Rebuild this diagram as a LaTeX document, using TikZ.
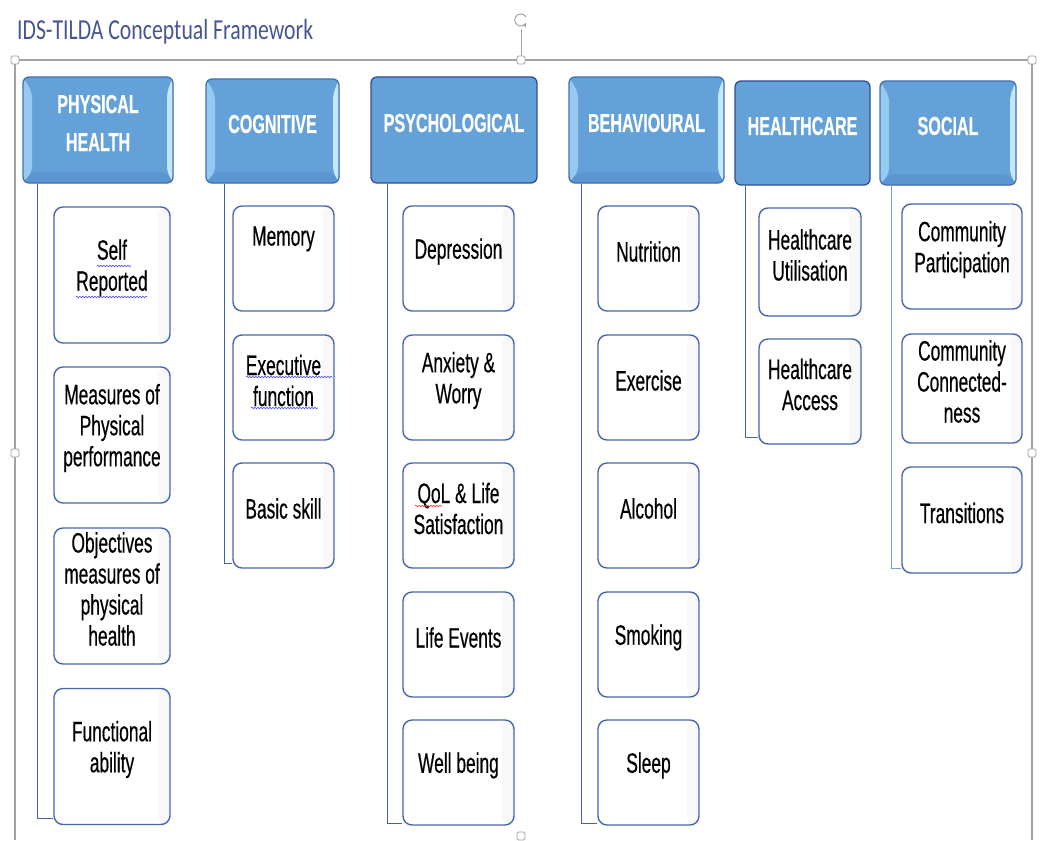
\documentclass[tikz,border=0pt]{standalone}
\usepackage{fontspec}
\setmainfont{Liberation Sans}
\newfontfamily\narrowfont[FakeStretch=0.62,FakeBold=0.4]{Liberation Sans}
\newfontfamily\titlefont[FakeStretch=0.75]{Carlito}
\usetikzlibrary{decorations.pathmorphing}
\definecolor{headblue}{RGB}{100,161,216}
\definecolor{headedge}{RGB}{66,112,176}
\definecolor{flatedge}{RGB}{48,78,150}
\definecolor{bevlight}{RGB}{150,202,240}
\definecolor{bevwhite}{RGB}{196,232,250}
\definecolor{bevdark}{RGB}{92,150,208}
\definecolor{boxedge}{RGB}{74,102,170}
\definecolor{linkblue}{RGB}{72,96,166}
\definecolor{linklight}{RGB}{110,160,215}
\definecolor{titleblue}{RGB}{70,86,142}
\definecolor{framegray}{RGB}{162,162,162}

\begin{document}
\begin{tikzpicture}[x=1pt,y=-1pt,
    headtext/.style={text=white,align=center,font=\narrowfont\bfseries\fontsize{26}{38}\selectfont},
    itemtext/.style={text=black,align=center,font=\narrowfont\fontsize{28}{31}\selectfont},
    flathead/.style={rectangle,rounded corners=6pt,draw=flatedge,line width=1.3pt,fill=headblue,inner sep=0pt,
      label={[headtext,yshift=7pt]center:#1}},
    head/.style={flathead={#1},draw=headedge,
      path picture={
        \path (path picture bounding box.north west) coordinate (bnw)
              (path picture bounding box.south east) coordinate (bse);
        \fill[bevlight] (bnw) -- (bnw|-bse) -- ([shift={(9pt,11pt)}]bnw|-bse) -- ([shift={(9pt,-15pt)}]bnw) -- cycle;
        \fill[bevwhite] (bse|-bnw) -- (bse) -- ([shift={(-6pt,11pt)}]bse) -- ([shift={(-6pt,-15pt)}]bse|-bnw) -- cycle;
        \fill[bevdark] (bnw|-bse) -- (bse) -- ([shift={(-6pt,11pt)}]bse) -- ([shift={(9pt,11pt)}]bnw|-bse) -- cycle;
      }},
    item/.style={rectangle,rounded corners=9pt,draw=boxedge,line width=1.4pt,fill=white,inner sep=0pt,
      path picture={
        \shade[left color=white,right color=black!3]
          ([xshift=-12pt]path picture bounding box.north east) rectangle (path picture bounding box.south east);
      },
      label={[itemtext,yshift=7pt]center:#1}},
    link/.style={draw=linkblue,line width=1.3pt},
    frame/.style={draw=framegray,line width=1.4pt},
    handle/.style={draw=framegray,fill=white,line width=0.8pt,rounded corners=1.5pt},
    squiggle/.style={line width=0.6pt,decorate,decoration={snake,amplitude=0.8pt,segment length=3pt}}]

    \useasboundingbox (0,0) rectangle (1040,840);

    % selection frame
    \draw[frame] (15,840) -- (15,60) -- (1032,60) -- (1032,840);
    \draw[framegray,line width=0.8pt] (521,56) -- (521,29);
    \draw[framegray,line width=1pt,->,>=stealth] (526,17) arc[start angle=30,end angle=330,radius=6pt];
    \foreach \hx/\hy in {15/60,521/60,1032/60,15/453,1032/453,521/836}
        \draw[handle] (\hx-4,\hy-4) rectangle (\hx+4,\hy+4);

    \node[anchor=west,text=titleblue,font=\titlefont\fontsize{29}{32}\selectfont,inner sep=0pt] (title) at (17,32) {IDS-TILDA Conceptual Framework};

    % headers
    \node[head={PHYSICAL\\HEALTH},minimum width=150pt,minimum height=106pt] (ph) at (98,130) {};
    \node[head={COGNITIVE},minimum width=133pt,minimum height=104pt] (cg) at (272.5,131) {};
    \node[flathead={PSYCHOLOGICAL},minimum width=166pt,minimum height=106pt] (ps) at (454,130) {};
    \node[head={BEHAVIOURAL},minimum width=155pt,minimum height=106pt] (bh) at (646.5,130) {};
    \node[flathead={HEALTHCARE},minimum width=135pt,minimum height=104pt] (hc) at (802.5,133) {};
    \node[head={SOCIAL},minimum width=136pt,minimum height=104pt] (so) at (948,133) {};

    % physical health
    \node[item={Self\\Reported},minimum width=116pt,minimum height=136pt] (p1) at (112,275) {};
    \node[item={Measures of\\Physical\\performance},minimum width=116pt,minimum height=136pt] (p2) at (112,435) {};
    \node[item={Objectives\\measures of\\physical\\health},itemtext/.append style={font=\narrowfont\fontsize{28}{29}\selectfont},minimum width=116pt,minimum height=136pt] (p3) at (112,596) {};
    \node[item={Functional\\ability},minimum width=116pt,minimum height=136pt] (p4) at (112,756.5) {};

    % cognitive
    \node[item={Memory\\\mbox{}},minimum width=101pt,minimum height=105pt] (c1) at (283.5,258.5) {};
    \node[item={Executive\\function},minimum width=101pt,minimum height=105pt] (c2) at (283.5,387.5) {};
    \node[item={Basic skill},minimum width=101pt,minimum height=105pt] (c3) at (283.5,515.5) {};

    % psychological
    \node[item={Depression},minimum width=111pt,minimum height=105pt] (s1) at (458.5,258.5) {};
    \node[item={Anxiety \&\\Worry},minimum width=111pt,minimum height=105pt] (s2) at (458.5,387.5) {};
    \node[item={QoL \& Life\\Satisfaction},minimum width=111pt,minimum height=105pt] (s3) at (458.5,515.5) {};
    \node[item={Life Events},minimum width=111pt,minimum height=105pt] (s4) at (458.5,644.5) {};
    \node[item={Well being},minimum width=111pt,minimum height=105pt] (s5) at (458.5,772.5) {};

    % behavioural
    \node[item={Nutrition},minimum width=101pt,minimum height=105pt] (b1) at (648.5,258.5) {};
    \node[item={Exercise},minimum width=101pt,minimum height=105pt] (b2) at (648.5,387.5) {};
    \node[item={Alcohol},minimum width=101pt,minimum height=105pt] (b3) at (648.5,515.5) {};
    \node[item={Smoking},minimum width=101pt,minimum height=105pt] (b4) at (648.5,644.5) {};
    \node[item={Sleep},minimum width=101pt,minimum height=105pt] (b5) at (648.5,772.5) {};

    % healthcare
    \node[item={Healthcare\\Utilisation},minimum width=102pt,minimum height=108pt] (h1) at (810,262) {};
    \node[item={Healthcare\\Access},minimum width=102pt,minimum height=105pt] (h2) at (810,391.5) {};

    % social
    \node[item={Community\\Participation},minimum width=120pt,minimum height=105pt] (o1) at (962,256.5) {};
    \node[item={Community\\Connected-\\ness},itemtext/.append style={font=\narrowfont\fontsize{28}{30}\selectfont},minimum width=120pt,minimum height=109pt] (o2) at (962,388.5) {};
    \node[item={Transitions},minimum width=120pt,minimum height=106pt] (o3) at (962,520) {};

    % connectors
    \draw[link] ([xshift=15pt]ph.south west) |- ([yshift=7pt]p4.south west);
    \draw[link] ([xshift=19pt]cg.south west) |- ([yshift=5pt]c3.south west);
    \draw[link] ([xshift=17pt]ps.south west) |- ([yshift=2pt]s5.south west);
    \draw[link] ([xshift=13pt]bh.south west) |- ([yshift=2pt]b5.south west);
    \draw[link] ([xshift=11pt]hc.south west) |- ([yshift=7pt]h2.south west);
    \draw[link,draw=linklight,line width=1pt] ([xshift=12pt]so.south west) |- ([yshift=5pt]o3.south west);

    % spelling marks
    \draw[squiggle,blue!70] (97,266) -- (131,266);
    \draw[squiggle,blue!70] (76,297) -- (147,297);
    \draw[squiggle,blue!70] (246,377) -- (332,377);
    \draw[squiggle,blue!70] (251,408) -- (318,408);
    \draw[squiggle,red!80] (415,506) -- (442,506);
\end{tikzpicture}
\end{document}
